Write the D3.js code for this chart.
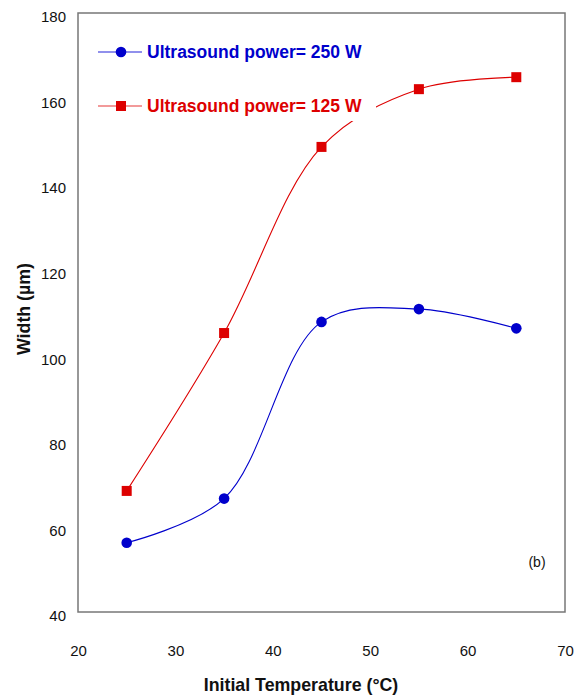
<!doctype html>
<html>
<head>
<meta charset="utf-8">
<style>
  body { margin: 0; background: #fff; }
  text { font-family: "Liberation Sans", Arial, sans-serif; }
</style>
</head>
<body>
<svg id="chart" width="580" height="695"></svg>
<script src="https://cdn.jsdelivr.net/npm/d3@7"></script>
<script>
const temps = [25, 35, 45, 55, 65];
const width250 = [56.2, 66.5, 107.8, 110.8, 106.3];
const width125 = [68.3, 105.2, 148.7, 162.2, 165.0];
const xTicks = [20, 30, 40, 50, 60, 70];
const yTicks = [40, 60, 80, 100, 120, 140, 160, 180];

const series = [
  { name: 'Ultrasound power= 250 W', values: width250, color: '#0000cc', legendLine: '#6b6be6', marker: 'circle' },
  { name: 'Ultrasound power= 125 W', values: width125, color: '#dd0000', legendLine: '#ee7878', marker: 'square' }
];

const svg = d3.select('#chart');
const plotLeft = 78, plotRight = 565, plotTop = 13, plotBottom = 612;

const x = d3.scaleLinear().domain([20, 70]).range([plotLeft, plotRight]);
const y = d3.scaleLinear().domain([40, 180]).range([plotBottom, plotTop]);

// axes: labels only, no ticks
const xAxis = svg.append('g')
  .attr('transform', `translate(0,${plotBottom})`)
  .call(d3.axisBottom(x).tickValues(xTicks).tickSize(0).tickPadding(33));
xAxis.select('.domain').remove();
xAxis.selectAll('text').attr('font-size', 15).attr('fill', '#111')
  .style('font-family', '"Liberation Sans", Arial, sans-serif');

const yAxis = svg.append('g')
  .attr('transform', `translate(${plotLeft},0)`)
  .call(d3.axisLeft(y).tickValues(yTicks).tickSize(0).tickPadding(12));
yAxis.select('.domain').remove();
yAxis.selectAll('text').attr('font-size', 15).attr('fill', '#111')
  .attr('y', 4)
  .style('font-family', '"Liberation Sans", Arial, sans-serif');

// frame
svg.append('rect')
  .attr('x', plotLeft).attr('y', plotTop)
  .attr('width', plotRight - plotLeft).attr('height', plotBottom - plotTop)
  .attr('fill', 'none').attr('stroke', '#777').attr('stroke-width', 1.5);

const line = d3.line()
  .x((d, i) => x(temps[i]))
  .y(d => y(d))
  .curve(d3.curveCatmullRom.alpha(0.5));

series.forEach(s => {
  svg.append('path')
    .datum(s.values)
    .attr('d', line)
    .attr('fill', 'none')
    .attr('stroke', s.color)
    .attr('stroke-width', 1.1);
});

// legend box covers part of the curve
const legendBox = svg.append('g');
legendBox.append('rect')
  .attr('x', 90).attr('y', 28).attr('width', 286).attr('height', 93)
  .attr('fill', '#fff');

function drawMarker(g, s, cx, cy) {
  if (s.marker === 'circle') {
    g.append('circle').attr('cx', cx).attr('cy', cy).attr('r', 5.3).attr('fill', s.color);
  } else {
    g.append('rect').attr('x', cx - 5).attr('y', cy - 5).attr('width', 10).attr('height', 10)
      .attr('fill', s.color);
  }
}

series.forEach(s => {
  const g = svg.append('g');
  s.values.forEach((v, i) => drawMarker(g, s, x(temps[i]), y(v)));
});

const legendY = [52, 106];
series.forEach((s, i) => {
  const g = legendBox.append('g');
  g.append('line')
    .attr('x1', 98).attr('x2', 142)
    .attr('y1', legendY[i]).attr('y2', legendY[i])
    .attr('stroke', s.legendLine).attr('stroke-width', 1.5);
  drawMarker(g, s, 121, legendY[i]);
  g.append('text')
    .attr('x', 147).attr('y', legendY[i] + 6)
    .attr('font-size', 17.5).attr('font-weight', 'bold')
    .attr('fill', s.color)
    .text(s.name);
});

// axis titles
svg.append('text')
  .attr('x', 301).attr('y', 691)
  .attr('text-anchor', 'middle')
  .attr('font-size', 17.8).attr('font-weight', 'bold').attr('fill', '#111')
  .text('Initial Temperature (°C)');

svg.append('text')
  .attr('transform', 'translate(30,309) rotate(-90)')
  .attr('text-anchor', 'middle')
  .attr('font-size', 17.8).attr('font-weight', 'bold').attr('fill', '#111')
  .text('Width (µm)');

svg.append('text')
  .attr('x', 537).attr('y', 567)
  .attr('text-anchor', 'middle')
  .attr('font-size', 14).attr('fill', '#111')
  .text('(b)');
</script>
</body>
</html>
